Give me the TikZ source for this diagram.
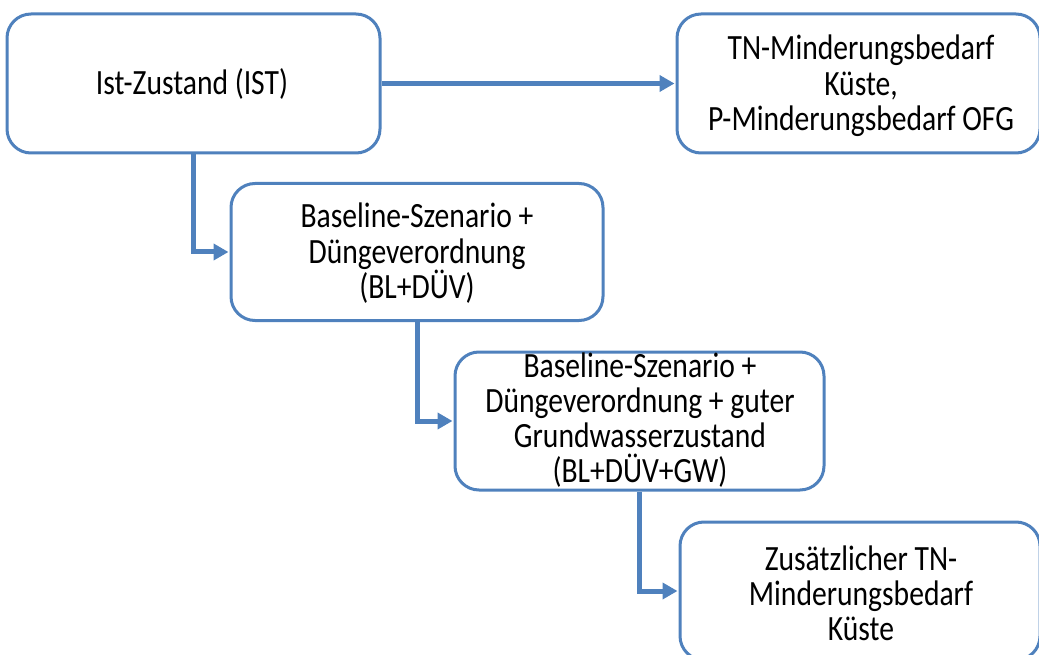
\documentclass[tikz,border=0pt]{standalone}
\usepackage{fontspec}
\setmainfont{Carlito}
\usepackage{graphicx}
\usetikzlibrary{arrows.meta}

\definecolor{boxblue}{RGB}{79,129,189}

% centred multi-line label, first baseline = node base
\newcommand{\boxlabel}[1]{%
  \scalebox{1}[1.2]{\parbox[t]{340pt}{\centering
    \fontsize{29.6pt}{29.2pt}\selectfont\lineskiplimit=-\maxdimen #1}}}

\tikzset{
  stagebox/.style={draw=boxblue, line width=3pt, rounded corners=24pt,
    fill=white, rectangle, inner sep=0pt},
  stagetext/.style={anchor=base, inner sep=0pt, text=black},
  conn/.style={draw=boxblue, line width=5pt,
    -{Triangle[length=15pt,width=16pt]}, shorten >=1pt},
}

\begin{document}
\begin{tikzpicture}[x=1pt,y=1pt]
  \useasboundingbox (0,0) rectangle (1039,-655);

  % boxes
  \node[stagebox, minimum width=373pt, minimum height=139pt] (ist)  at (193.5,-83.5) {};
  \node[stagebox, minimum width=363pt, minimum height=139pt] (tn)   at (858.5,-83.5) {};
  \node[stagebox, minimum width=372pt, minimum height=137pt] (bl)   at (417,-252) {};
  \node[stagebox, minimum width=369pt, minimum height=138pt] (blgw) at (639.5,-421) {};
  \node[stagebox, minimum width=360pt, minimum height=138pt] (add)  at (860,-591) {};

  % labels
  \node[stagetext] (istT)  at (192,-95)  {\boxlabel{Ist-Zustand (IST)}};
  \node[stagetext] (tnT)   at (861,-60)  {\boxlabel{TN-Minderungsbedarf\\Küste,\\P-Minderungsbedarf OFG}};
  \node[stagetext] (blT)   at (417,-228) {\boxlabel{Baseline-Szenario +\\Düngeverordnung\\(BL+DÜV)}};
  \node[stagetext] (blgwT) at (640,-377) {\boxlabel{Baseline-Szenario +\\Düngeverordnung + guter\\Grundwasserzustand\\(BL+DÜV+GW)}};
  \node[stagetext] (addT)  at (861,-570) {\boxlabel{Zusätzlicher TN-\\Minderungsbedarf\\Küste}};

  % connectors
  \draw[conn] (ist.east) -- (tn.west);
  \draw[conn] (ist.south) |- (bl.west);
  \draw[conn] (bl.south) |- (blgw.west);
  \draw[conn] (blgw.south) |- (add.west);
\end{tikzpicture}
\end{document}
